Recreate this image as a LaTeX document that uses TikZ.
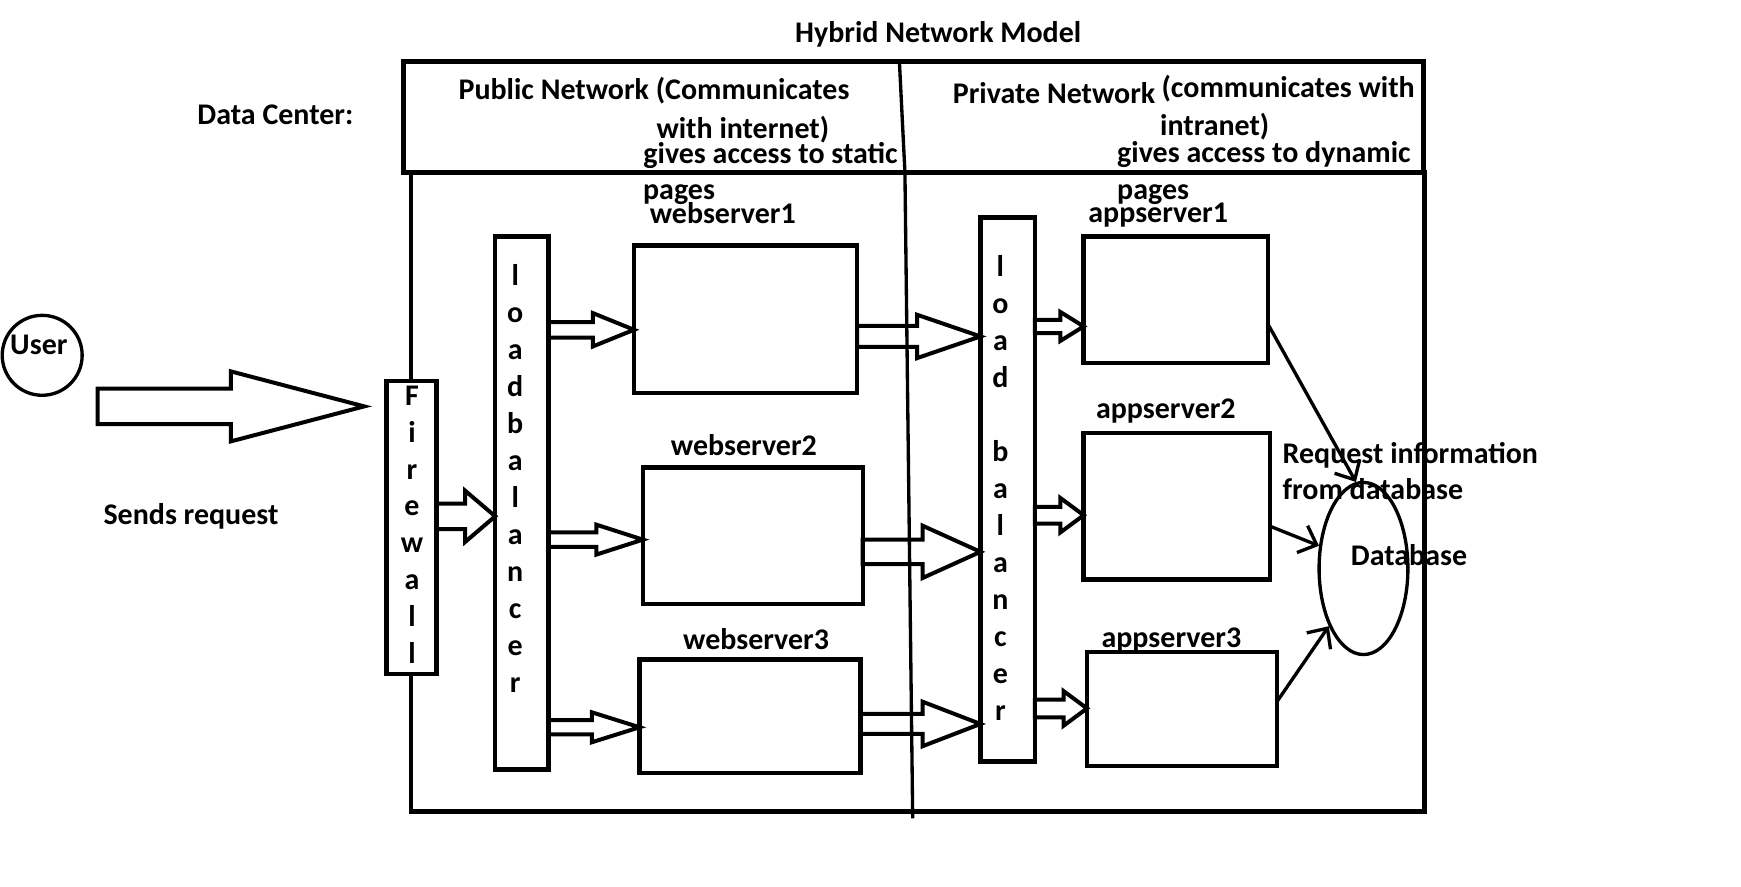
\documentclass[tikz,border=0pt]{standalone}
\usepackage{fontspec}
\setmainfont{Carlito}
\usetikzlibrary{calc,arrows.meta,shapes.geometric}
\newcommand\blockarr[5]{%
  \draw[blockarrow] let \p1=(#1), \p2=(#2) in
    (\x1,\y2+#4pt) -- (\x2-#3pt,\y2+#4pt) -- (\x2-#3pt,\y2+#5pt) -- (\p2)
    -- (\x2-#3pt,\y2-#5pt) -- (\x2-#3pt,\y2-#4pt) -- (\x1,\y2-#4pt) -- cycle;}
\tikzset{
  box/.style={draw, line width=4pt, fill=white, inner sep=0pt, outer sep=0pt},
  frame/.style={draw, line width=4pt, inner sep=0pt, outer sep=0pt},
  lbl/.style={font=\fontsize{27}{30}\selectfont\bfseries, inner sep=0pt, anchor=base},
  lblw/.style={lbl, anchor=base west},
  blockarrow/.style={draw, line width=3.6pt},
  thin/.style={draw, line width=3pt},
  conn/.style={line width=3pt, -{Straight Barb[length=14pt,width=26pt,line width=3pt]}},
}
\begin{document}
\begin{tikzpicture}[x=1pt,y=-1pt]
\useasboundingbox (0,0) rectangle (1568,798);
% frames
\node[frame, minimum width=913pt, minimum height=576pt] (body) at (826.5,443) {};
\node[frame, line width=4.5pt, minimum width=919pt, minimum height=100pt] (hdr) at (822.5,105) {};
\draw[thin] (810,55) -- (815,155) -- (822,737);
% titles
\node[lbl] (title) at (845,38) {Hybrid Network Model};
\node[lbl] (dc) at (248,112) {Data Center:};
\node[lbl] (pub1) at (589,90) {Public Network (Communicates};
\node[lbl] (pub2) at (669,125) {with internet)};
\node[lbl] (pub3) at (694,147) {gives access to static};
\node[lblw] (pub4) at (579,180) {pages};
\node[lblw] (prv1) at (858,93) {Private Network};
\node[lblw] (prv1b) at (1046,88) {(communicates with};
\node[lbl] (prv2) at (1094,122) {intranet)};
\node[lblw] (prv3) at (1006,146) {gives access to dynamic};
\node[lblw] (prv4) at (1006,180) {pages};
% user
\node[thin, circle, minimum size=72pt, inner sep=0pt] (user) at (38,320) {};
\node[lblw] (userl) at (9,319) {User};
\node[lbl] (sends) at (172,472) {Sends request};
\coordinate (ua) at (88,366);
\coordinate (ub) at (328,366);
\blockarr{ua}{ub}{120}{16}{31.5}
% firewall
\node[box, minimum width=45pt, minimum height=264pt] (fw) at (370.5,475) {};
\foreach \c [count=\i] in {F,i,r,e,w,a,l,l}
  \node[lbl] (fw-\i) at (371,{365+33.2*(\i-1)}) {\c};
% load balancer 1
\node[box, minimum width=48pt, minimum height=480pt] (lb1) at (470,453) {};
\foreach \c [count=\i] in {l,o,a,d,b,a,l,a,n,c,e,r}
  \node[lbl] (lba-\i) at (464,{257+33.3*(\i-1)}) {\c};
% webservers
\node[box, minimum width=201pt, minimum height=133pt] (ws1) at (671.5,287.5) {};
\node[box, minimum width=198pt, minimum height=123pt] (ws2) at (678,482.5) {};
\node[box, minimum width=199pt, minimum height=102pt] (ws3) at (675.5,645) {};
\node[lbl] (ws1l) at (651,201) {webserver1};
\node[lbl] (ws2l) at (670,410) {webserver2};
\node[lbl] (ws3l) at (681,585) {webserver3};
% load balancer 2
\node[box, minimum width=49pt, minimum height=490pt] (lb2) at (907.5,441) {};
\foreach \c/\k [count=\i] in {l/0,o/1,a/2,d/3,b/5,a/6,l/7,a/8,n/9,c/10,e/11,r/12}
  \node[lbl] (lbb-\i) at (901,{249+33.3*\k}) {\c};
% appservers
\node[box, minimum width=166pt, minimum height=114pt] (as1) at (1059,270) {};
\node[box, minimum width=168pt, minimum height=132pt] (as2) at (1060,456) {};
\node[box, minimum width=171pt, minimum height=103pt] (as3) at (1064.5,638.5) {};
\node[lblw] (as1l) at (980,200) {appserver1};
\node[lbl] (as2l) at (1050,377) {appserver2};
\node[lbl] (as3l) at (1055,583) {appserver3};
% database
\node[thin, ellipse, minimum width=80pt, minimum height=155pt, inner sep=0pt] (db) at (1228,512) {};
\node[lbl] (dbl) at (1269,509) {Database};
\node[lblw] (req1) at (1155,417) {Request information};
\node[lblw] (req2) at (1155,450) {from database};
% block arrows
\blockarr{fw.east}{lb1.west |- 0,465}{27}{11.5}{23}
\blockarr{lb1.east}{ws1.west |- 0,297}{37}{7}{15}
\blockarr{lb1.east}{ws2.west |- 0,486}{42}{6.5}{13.5}
\blockarr{lb1.east}{ws3.west |- 0,655}{43}{6.5}{13.5}
\blockarr{ws1.east}{lb2.west |- 0,303}{57}{9.5}{19.5}
\blockarr{ws2.east}{lb2.west |- 0,497}{52}{11}{23.5}
\blockarr{ws3.east}{lb2.west |- 0,652}{52}{9}{20}
\blockarr{lb2.east}{as1.west |- 0,294}{21}{6}{13}
\blockarr{lb2.east}{as2.west |- 0,464}{21}{7.5}{15.5}
\blockarr{lb2.east}{as3.west |- 0,638}{21}{8}{15.5}
% database connectors
\draw[conn] (as1.east |- 0,292) -- (db.95);
\draw[conn] (as2.east |- 0,474) -- (db.153);
\draw[conn] (as3.east |- 0,632) -- (db.239);
\end{tikzpicture}
\end{document}
